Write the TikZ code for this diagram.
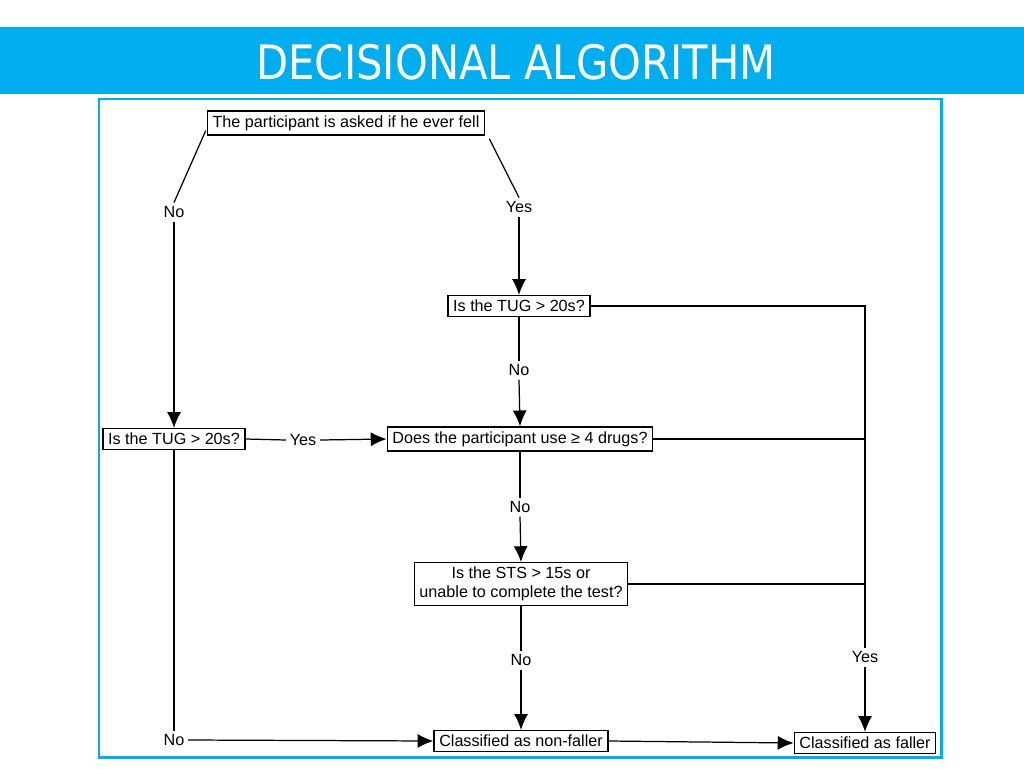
\documentclass[tikz,border=0pt]{standalone}
\usepackage{fontspec}
\setmainfont{Liberation Sans}
\newfontfamily\titlefont{DejaVu Sans}
\usetikzlibrary{arrows.meta,calc}
\definecolor{slideblue}{HTML}{00AEEF}

\begin{document}
\begin{tikzpicture}[x=0.02cm,y=-0.02cm,
  box/.style={draw,line width=0.7pt,inner xsep=3pt,inner ysep=2.6pt,font=\fontsize{9.2}{10.5}\selectfont,align=center},
  lbl/.style={inner sep=2pt,font=\fontsize{9.2}{10.5}\selectfont},
  flow/.style={line width=0.7pt},
  arr/.style={flow,-{Latex[length=9pt,width=8pt]}}]
% slide background and frame
\useasboundingbox (0,0) rectangle (1024,768);
\fill[white] (0,0) rectangle (1024,768);
\fill[slideblue] (0,27) rectangle (1024,94);
\node[text=white,font=\titlefont\fontsize{27}{30}\selectfont,xscale=0.88] (title) at (516,62) {DECISIONAL ALGORITHM};
\draw[slideblue,line width=1.7pt] (99,99) rectangle (941,757);

% boxes
\node[box] (ask) at (346,123) {The participant is asked if he ever fell};
\node[box] (tugr) at (519,306) {Is the TUG > 20s?};
\node[box] (tugl) at (174,439) {Is the TUG > 20s?};
\node[box] (drugs) at (520,439) {Does the participant use ≥ 4 drugs?};
\node[box] (sts) at (521,584) {Is the STS > 15s or\\unable to complete the test?};
\node[box] (nonf) at (521,741) {Classified as non-faller};
\node[box] (fall) at (865,743) {Classified as faller};

% yes / no labels
\node[lbl] (no1) at (174,212) {No};
\node[lbl] (yes1) at (519,207) {Yes};
\node[lbl] (no2) at (519,370) {No};
\node[lbl] (yes2) at (303,440) {Yes};
\node[lbl] (no3) at (520,507) {No};
\node[lbl] (no4) at (521,660) {No};
\node[lbl] (yes3) at (865,657) {Yes};
\node[lbl] (no5) at (174,740) {No};
\coordinate (rc) at (865,306);

% connectors
\draw[flow] ($(ask.south west)+(-1,-5)$) -- (no1.north);
\draw[arr] (no1.south) -- (tugl.north);
\draw[flow] ($(ask.south east)+(4,3)$) -- (yes1.north);
\draw[arr] (yes1.south) -- (tugr.north);
\draw[flow] (tugr.south) -- (no2.north);
\draw[arr] (no2.south) -- (drugs.north);
\draw[flow] (tugl.east) -- (yes2.west);
\draw[arr] (yes2.east) -- (drugs.west);
\draw[flow] (drugs.south) -- (no3.north);
\draw[arr] (no3.south) -- (sts.north);
\draw[flow] (sts.south) -- (no4.north);
\draw[arr] (no4.south) -- (nonf.north);
\draw[flow] (tugl.south) -- (no5.north);
\draw[arr] (no5.east) -- (nonf.west);
\draw[arr] (nonf.east) -- (fall.west);

% right hand yes line
\draw[flow] (tugr.east) -- (rc) -- (yes3.north);
\draw[flow] (drugs.east) -- (drugs.east -| rc);
\draw[flow] (sts.east) -- (sts.east -| rc);
\draw[arr] (yes3.south) -- (fall.north);
\end{tikzpicture}
\end{document}
